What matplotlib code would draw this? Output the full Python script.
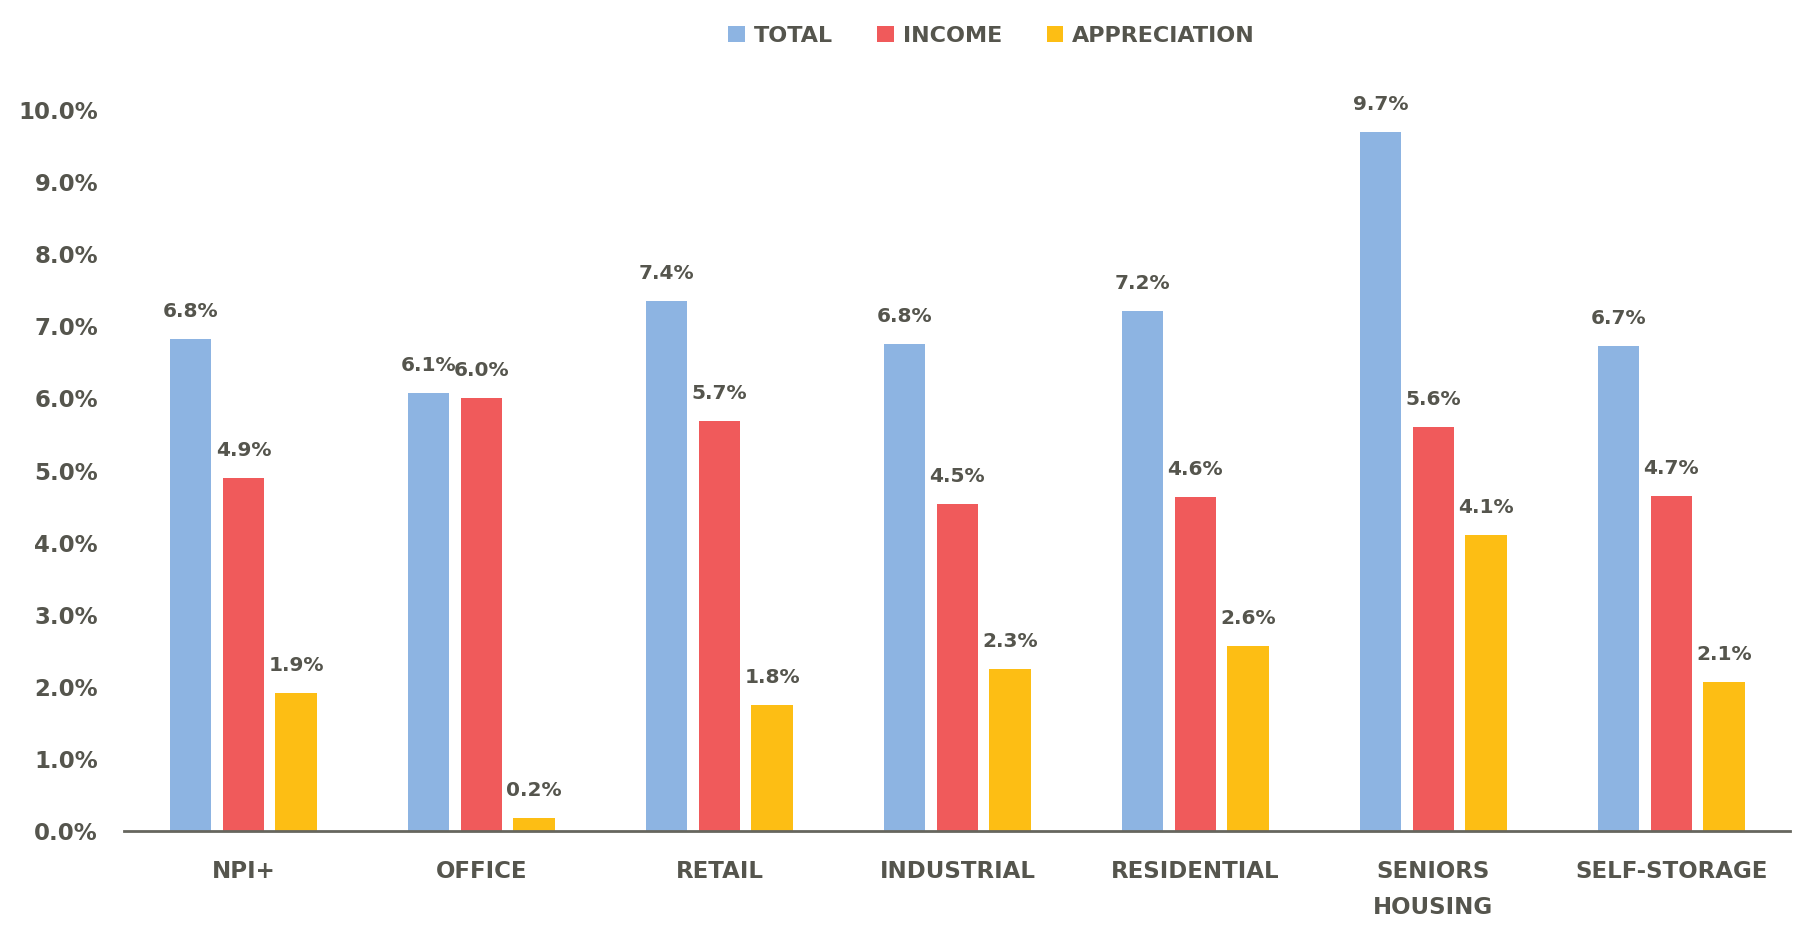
import matplotlib
matplotlib.use('Agg')
import matplotlib.pyplot as plt
import numpy as np

categories = ['NPI+', 'OFFICE', 'RETAIL', 'INDUSTRIAL', 'RESIDENTIAL', 'SENIORS\nHOUSING', 'SELF-STORAGE']
series_names = ['TOTAL', 'INCOME', 'APPRECIATION']
total = [6.83, 6.08, 7.35, 6.75, 7.21, 9.70, 6.73]
income = [4.90, 6.00, 5.69, 4.53, 4.63, 5.60, 4.64]
appreciation = [1.91, 0.18, 1.74, 2.25, 2.57, 4.10, 2.06]
total_labels = ['6.8%', '6.1%', '7.4%', '6.8%', '7.2%', '9.7%', '6.7%']
income_labels = ['4.9%', '6.0%', '5.7%', '4.5%', '4.6%', '5.6%', '4.7%']
appreciation_labels = ['1.9%', '0.2%', '1.8%', '2.3%', '2.6%', '4.1%', '2.1%']

colors = ['#8DB4E2', '#F05A5B', '#FDBE14']
text_col = '#55554D'

fig = plt.figure(figsize=(18.03, 9.42), dpi=100)
ax = fig.add_axes([0.069, 0.118, 0.924, 0.765])

x = np.arange(len(categories))
width = 0.175
step = 0.222
series = [total, income, appreciation]
labels = [total_labels, income_labels, appreciation_labels]
for k in range(3):
	bars = ax.bar(x + (k - 1) * step, series[k], width, color=colors[k], label=series_names[k])
	for b, lab in zip(bars, labels[k]):
		ax.annotate(lab, (b.get_x() + b.get_width() / 2, b.get_height()),
			xytext=(0, 13), textcoords='offset points', ha='center', va='bottom',
			fontsize=14.5, fontweight='bold', family='DejaVu Sans', color=text_col,
			annotation_clip=False)

ax.set_xlim(-0.5, 6.5)
ax.set_ylim(0, 10)
ax.set_yticks(np.arange(0, 11, 1))
ax.set_yticklabels(['%.1f%%' % v for v in np.arange(0, 11, 1)], fontsize=16.5,
	fontweight='bold', family='DejaVu Sans', color=text_col)
ax.set_xticks(x)
ax.set_xticklabels(categories, fontsize=16.5, fontweight='bold', family='DejaVu Sans',
	color=text_col, linespacing=1.7)
ax.tick_params(axis='both', length=0)
ax.tick_params(axis='x', pad=21)
ax.tick_params(axis='y', pad=19)
for s in ['top', 'right', 'left']:
	ax.spines[s].set_visible(False)
ax.spines['bottom'].set_color('#66665E')
ax.spines['bottom'].set_linewidth(2)

leg = fig.legend(loc='center', bbox_to_anchor=(0.55, 0.962), ncol=3, frameon=False,
	prop={'family': 'DejaVu Sans', 'weight': 'bold', 'size': 16},
	handlelength=0.75, handleheight=0.75, handletextpad=0.4, columnspacing=2.0)
for t in leg.get_texts():
	t.set_color(text_col)

plt.savefig('out.png', dpi=100)
